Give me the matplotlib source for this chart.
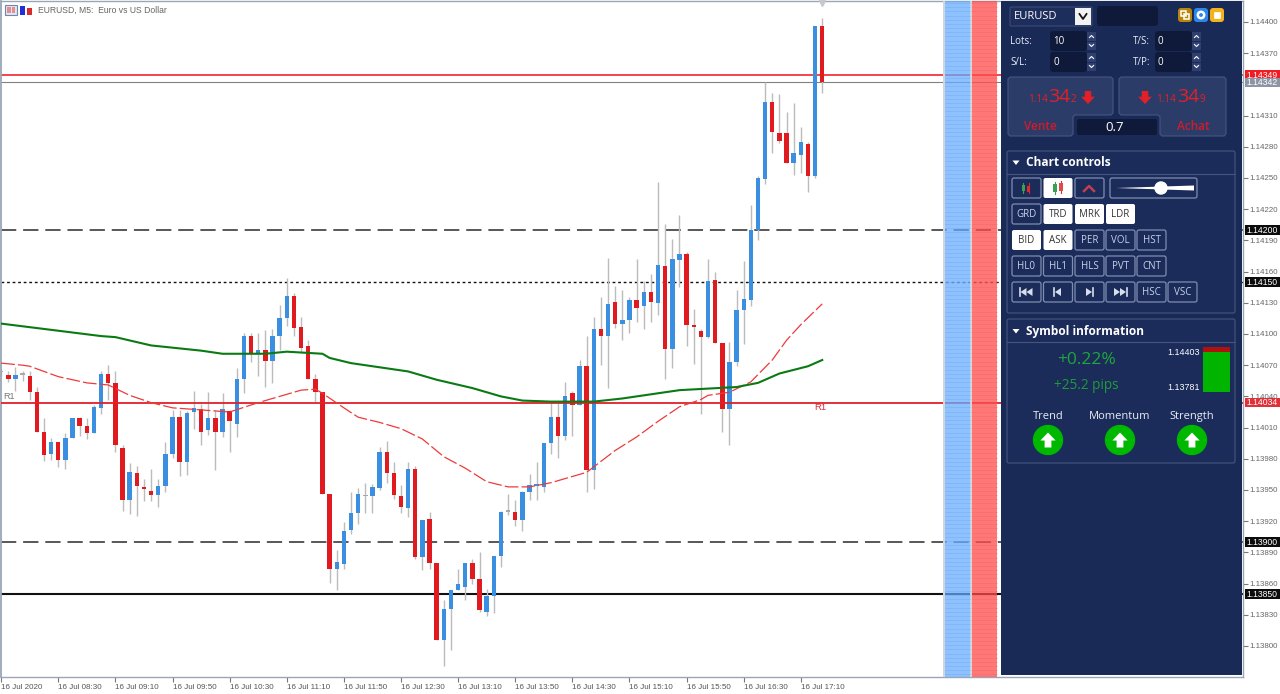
import matplotlib
matplotlib.use('Agg')
import matplotlib.pyplot as plt
from matplotlib.patches import Rectangle, FancyBboxPatch, Polygon, Circle
import numpy as np

plt.rcParams['font.family'] = ['Liberation Sans', 'DejaVu Sans']

# prices are kept in points (1e-5), candles in time order
opens = [114063, 114061, 114057, 114061, 114060, 114044, 114006, 113985, 113996, 113979, 114000, 114019, 114012, 114005, 114029, 114062, 114053, 113990, 113940, 113966, 113952, 113949, 113945, 113954, 113985, 114020, 113977, 114025, 114028, 114008, 114019, 114006, 114026, 114013, 114057, 114098, 114081, 114085, 114074, 114098, 114115, 114137, 114107, 114088, 114057, 114044, 113946, 113874, 113879, 113912, 113928, 113944, 113944, 113952, 113987, 113966, 113944, 113933, 113970, 113886, 113922, 113880, 113806, 113836, 113854, 113857, 113880, 113864, 113833, 113848, 113887, 113929, 113929, 113921, 113948, 113954, 113953, 113995, 114020, 114002, 114043, 114032, 114069, 113969, 114105, 114098, 114131, 114110, 114113, 114133, 114127, 114140, 114130, 114165, 114086, 114171, 114177, 114108, 114103, 114097, 114152, 114091, 114028, 114073, 114123, 114133, 114200, 114249, 114323, 114293, 114293, 114264, 114272, 114283, 114252, 114396]
highs = [114066, 114064, 114068, 114064, 114064, 114049, 114019, 114000, 113996, 114005, 114019, 114020, 114019, 114032, 114064, 114070, 114064, 113993, 113976, 113973, 113961, 113970, 113961, 113996, 114027, 114027, 114026, 114045, 114033, 114044, 114027, 114043, 114027, 114067, 114101, 114101, 114101, 114104, 114105, 114128, 114154, 114139, 114116, 114094, 114062, 114044, 113946, 113892, 113919, 113948, 113952, 113957, 113956, 113991, 113997, 113977, 113955, 113977, 113973, 113921, 113929, 113880, 113844, 113854, 113874, 113880, 113884, 113890, 113855, 113887, 113930, 113946, 113940, 113949, 113965, 113977, 113995, 114035, 114036, 114054, 114045, 114075, 114098, 114116, 114136, 114173, 114146, 114142, 114136, 114172, 114151, 114158, 114246, 114206, 114191, 114214, 114179, 114124, 114105, 114172, 114160, 114091, 114092, 114142, 114170, 114224, 114252, 114342, 114332, 114331, 114313, 114322, 114299, 114285, 114396, 114404]
lows = [114060, 114054, 114045, 114055, 114037, 114006, 113978, 113979, 113972, 113970, 114000, 114002, 113999, 114005, 114023, 114037, 113987, 113930, 113927, 113925, 113939, 113939, 113934, 113948, 113981, 113963, 113964, 114009, 113993, 114003, 113969, 114001, 113987, 114001, 114043, 114073, 114060, 114049, 114053, 114085, 114108, 114098, 114083, 114057, 114035, 113946, 113861, 113854, 113874, 113908, 113917, 113928, 113928, 113950, 113957, 113941, 113928, 113924, 113884, 113873, 113874, 113806, 113781, 113796, 113854, 113844, 113860, 113833, 113829, 113832, 113876, 113926, 113915, 113911, 113940, 113940, 113948, 113985, 113981, 113998, 114002, 114032, 113948, 113951, 114070, 114048, 114106, 114094, 114101, 114112, 114105, 114112, 114118, 114057, 114067, 114145, 114088, 114071, 114023, 114096, 114091, 114006, 113993, 114069, 114090, 114127, 114190, 114244, 114274, 114284, 114264, 114253, 114255, 114237, 114250, 114332]
closes = [114063, 114057, 114061, 114061, 114044, 114006, 113984, 113996, 113979, 114000, 114019, 114012, 114005, 114030, 114062, 114053, 113993, 113940, 113967, 113954, 113951, 113945, 113954, 113985, 114020, 113977, 114024, 114029, 114006, 114019, 114006, 114028, 114016, 114057, 114098, 114081, 114085, 114074, 114098, 114115, 114137, 114106, 114087, 114057, 114044, 113946, 113874, 113881, 113911, 113928, 113946, 113944, 113953, 113987, 113966, 113945, 113934, 113970, 113886, 113921, 113880, 113806, 113836, 113854, 113860, 113880, 113864, 113835, 113848, 113887, 113929, 113929, 113921, 113948, 113955, 113955, 113995, 114020, 114002, 114040, 114032, 114069, 113969, 114105, 114098, 114129, 114110, 114113, 114133, 114125, 114140, 114131, 114166, 114086, 114172, 114177, 114109, 114107, 114097, 114151, 114091, 114028, 114073, 114123, 114134, 114200, 114250, 114323, 114294, 114286, 114264, 114274, 114285, 114252, 114396, 114342]

# the two moving averages, read at the candle numbers listed
slow_ma_idx = [0, 7, 14, 16, 21, 28, 31, 37, 40, 45, 46, 49, 54, 57, 61, 66, 70, 73, 77, 83, 87, 95, 103, 106, 109, 113, 115]
slow_ma = [114110, 114104, 114098, 114097, 114089, 114084, 114081, 114081, 114083, 114081, 114077, 114072, 114067, 114064, 114056, 114048, 114040, 114036, 114035, 114035, 114038, 114046, 114049, 114053, 114062, 114069, 114075]
fast_ma_idx = [0, 3, 4, 8, 12, 15, 18, 21, 24, 28, 32, 36, 39, 42, 44, 45, 48, 50, 53, 56, 59, 62, 65, 68, 71, 74, 77, 82, 86, 89, 92, 95, 98, 99, 101, 102, 105, 108, 110, 112, 115]
fast_ma = [114072, 114070, 114069, 114059, 114053, 114051, 114041, 114034, 114029, 114027, 114025, 114034, 114040, 114046, 114047, 114043, 114029, 114020, 114015, 114009, 113999, 113982, 113971, 113958, 113953, 113953, 113957, 113967, 113988, 114001, 114016, 114030, 114037, 114041, 114043, 114044, 114054, 114075, 114094, 114109, 114129]

price_ticks = [114400, 114370, 114310, 114280, 114250, 114220, 114190, 114160, 114130, 114100, 114070, 114040, 114010, 113980, 113950, 113920, 113890, 113860, 113830, 113800]
time_labels = ['16 Jul 2020', '16 Jul 08:30', '16 Jul 09:10', '16 Jul 09:50', '16 Jul 10:30', '16 Jul 11:10', '16 Jul 11:50', '16 Jul 12:30', '16 Jul 13:10', '16 Jul 13:50', '16 Jul 14:30', '16 Jul 15:10', '16 Jul 15:50', '16 Jul 16:30', '16 Jul 17:10']

ask_level = 114349
bid_level = 114342
dash_levels = [114200, 113900]
dot_level = 114150
pivot_level = 114034
solid_level = 113850

row2_labels = ['GRD', 'TRD', 'MRK', 'LDR']
row3_labels = ['BID', 'ASK', 'PER', 'VOL', 'HST']
row4_labels = ['HL0', 'HL1', 'HLS', 'PVT', 'CNT']
row5_labels = ['HSC', 'VSC']
signal_labels = ['Trend', 'Momentum', 'Strength']

NAVY = '#1a2a56'
PANEL_EDGE = '#46567f'
BTN_EDGE = '#7f8db0'
DARK = '#0f1a3a'
BLUE = '#3a8fe0'
RED = '#e01a1f'
PIX_PER_POINT = 1.04
PIX_PER_BAR = 7.14

fig = plt.figure(figsize=(12.8, 6.94), dpi=100)
ax = fig.add_axes([0.8 / 1280, 17.5 / 694, 1242.2 / 1280, 675.5 / 694])
ax.set_xlim((0.8 - 1.16) / PIX_PER_BAR, (1243 - 1.16) / PIX_PER_BAR)
ax.set_ylim(114400 - 654.5 / PIX_PER_POINT, 114400 + 21 / PIX_PER_POINT)

# horizontal levels
ax.axhline(ask_level, color='#f2262c', lw=1.2, zorder=1)
ax.axhline(bid_level, color='#808080', lw=0.8, zorder=1)
for lev in dash_levels:
    ax.axhline(lev, color='#2a2a2a', lw=1.1, dashes=(10, 4.5), zorder=1)
ax.axhline(dot_level, color='#111111', lw=1.0, dashes=(2, 2), zorder=1)
ax.axhline(solid_level, color='#111111', lw=1.5, zorder=1)

# candles
idx = np.arange(len(opens))
o = np.array(opens)
c = np.array(closes)
ax.vlines(idx, lows, highs, color='#bcbcbc', lw=1.0, zorder=2)
colors = []
for a, b in zip(opens, closes):
    if b == a:
        colors.append('#a8a8a8')
    elif b > a:
        colors.append(BLUE)
    else:
        colors.append(RED)
body = np.maximum(np.abs(c - o), 1.5)
ax.bar(idx, body, bottom=np.minimum(o, c), width=0.62, color=colors, lw=0, zorder=3)

ax.axhline(pivot_level, color='#e0202a', lw=1.3, zorder=4)
ax.plot(fast_ma_idx, fast_ma, color='#ee3a3a', lw=0.9, dashes=(11, 2.5), zorder=4)
ax.plot(slow_ma_idx, slow_ma, color='#0a7a12', lw=1.5, zorder=4, solid_joinstyle='round')

ax.text(0.3, 114040, 'R1', fontsize=6.6, color='#777777', ha='left', va='center')
ax.text(114.7, 114029, 'R1', fontsize=6.8, color='#d8303a', ha='center', va='center')
ax.plot([115], [114418], marker='v', ms=4, color='#c8c8c8', clip_on=False, zorder=3)

# scales
ax.yaxis.tick_right()
ax.set_yticks(price_ticks)
ax.set_yticklabels(['%.5f' % (p / 1e5) for p in price_ticks])
ax.tick_params(axis='y', length=3.5, width=0.8, color='#777777', labelcolor='#666666', labelsize=5.7, pad=0.8)
ax.set_xticks(np.arange(len(time_labels)) * 8)
ax.set_xticklabels(time_labels)
ax.tick_params(axis='x', length=3.5, width=0.8, color='#777777', labelcolor='#555555', labelsize=5.8, pad=1.8)
for lab in ax.get_xticklabels():
    lab.set_ha('left')
for sp in ax.spines.values():
    sp.set_color('#9aa6b6')
    sp.set_linewidth(1.0)
ax.spines['left'].set_linewidth(1.3)

# price tags on the right scale
trans = ax.get_yaxis_transform()
tags = [(ask_level, '#f01c22'), (bid_level, '#8c96a4'), (114200, '#0c0c0c'), (114150, '#0c0c0c'),
        (pivot_level, '#e03038'), (113900, '#0c0c0c'), (solid_level, '#0c0c0c')]
for lev, col in tags:
    ax.add_patch(Rectangle((1.0016, lev - 4.4), 0.0282, 8.8, transform=trans, color=col, clip_on=False, zorder=6, lw=0))
    ax.text(1.0155, lev - 0.3, '%.5f' % (lev / 1e5), transform=trans, color='white', fontsize=6.2,
            ha='center', va='center', clip_on=False, zorder=7)

# everything outside the chart itself goes on a pixel-sized overlay
ui = fig.add_axes([0, 0, 1, 1], zorder=10)
ui.set_xlim(0, 1280)
ui.set_ylim(694, 0)
ui.axis('off')
ui.patch.set_alpha(0)


def rect(x0, y0, x1, y1, fc, ec='none', lw=0.0, alpha=None, z=2):
    p = Rectangle((x0, y0), x1 - x0, y1 - y0, facecolor=fc, edgecolor=ec, lw=lw, alpha=alpha, zorder=z)
    ui.add_patch(p)
    return p


def rbox(x0, y0, x1, y1, fc, ec='none', lw=0.8, r=2, z=3):
    p = FancyBboxPatch((x0 + r, y0 + r), x1 - x0 - 2 * r, y1 - y0 - 2 * r, boxstyle='round,pad=%g,rounding_size=%g' % (r, r),
                       facecolor=fc, edgecolor=ec, lw=lw, zorder=z)
    ui.add_patch(p)
    return p


def label(x, y, s, size=7, color='white', ha='center', weight='normal', va='center', z=5, family='Open Sans'):
    ui.text(x, y, s, fontsize=size, color=color, ha=ha, va=va, fontweight=weight, zorder=z, family=family)


def down_arrow(cx, cy, col):
    xs = np.array([-3.2, 3.2, 3.2, 6.8, 0, -6.8, -3.2])
    ys = np.array([-6.5, -6.5, -0.8, -0.8, 6.5, -0.8, -0.8])
    ui.add_patch(Polygon(np.c_[cx + xs, cy + ys], closed=True, color=col, lw=0, zorder=5))


def up_arrow(cx, cy):
    xs = np.array([-3.4, 3.4, 3.4, 7.6, 0, -7.6, -3.4])
    ys = np.array([7.5, 7.5, 0.5, 0.5, -7.5, 0.5, 0.5])
    ui.add_patch(Polygon(np.c_[cx + xs, cy + ys], closed=True, color='white', lw=0, zorder=6))


# chart title and icons
rect(5, 5, 17, 15, '#dfe6f5', '#6f86b0', 0.8)
rect(7, 7, 10.5, 13, '#e88c8c')
rect(11.5, 7, 15, 13, '#e88c8c')
rect(20, 6, 25, 15, '#2030d8')
rect(27, 8, 32, 15, '#d82c2c')
label(38, 10, 'EURUSD, M5:  Euro vs US Dollar', 6.2, '#666666', 'left', family='Liberation Sans')

# depth strips
rect(943, 1, 945, 677, '#cfd6dc', z=1)
rect(970, 1, 972, 677, '#cfd6dc', z=1)
rect(945, 1, 970, 677, '#62aaff', alpha=0.72, z=2)
rect(972, 1, 997, 677, '#ff4a4a', alpha=0.75, z=2)
for yy in np.arange(3, 677, 4.17):
    ui.plot([945, 970], [yy, yy], color='#6fa8ec', lw=0.5, alpha=0.55, zorder=3)
    ui.plot([972, 997], [yy, yy], color='#ee6262', lw=0.5, alpha=0.45, zorder=3)

# side panel
rect(1001, 1, 1242, 675, NAVY, z=2)

rbox(1010, 7, 1092, 26, '#1d2d5c', PANEL_EDGE, 0.6, 1)
label(1014, 16, 'EURUSD', 8, 'white', 'left')
rect(1075, 8, 1091, 25, '#f2f2f2', z=4)
ui.plot([1079.5, 1083, 1086.5], [14, 19, 14], color='#111111', lw=1.3, zorder=5)
rbox(1097, 6, 1158, 26, DARK, r=3)
for x0, col in [(1178, '#b8860b'), (1194, '#2f86e8'), (1210, '#f2b41e')]:
    rbox(x0, 8, x0 + 14, 22, col, r=3)
ui.add_patch(Rectangle((1181, 11), 5, 5, fc='none', ec='white', lw=1.1, zorder=5))
ui.add_patch(Rectangle((1184, 14), 5, 5, fc='none', ec='white', lw=1.1, zorder=5))
ui.add_patch(Circle((1201, 15), 3.2, fc='none', ec='white', lw=1.8, zorder=5))
ui.add_patch(Rectangle((1214, 12), 6, 6, fc='white', ec='white', lw=0.5, zorder=5))

for txt, lx, fx, fy, val in [('Lots:', 1010, 1050, 31, '10'), ('T/S:', 1133, 1155, 31, '0'),
                              ('S/L:', 1010, 1050, 52, '0'), ('T/P:', 1133, 1155, 52, '0')]:
    label(lx, fy + 10, txt, 7, '#e8ecf6', 'left')
    rbox(fx, fy, fx + 37, fy + 20, DARK, r=3)
    label(fx + 3, fy + 10, val, 7, 'white', 'left')
    rect(fx + 37, fy + 1, fx + 46, fy + 9.5, '#2f4070')
    rect(fx + 37, fy + 10.5, fx + 46, fy + 19, '#2f4070')
    ui.plot([fx + 39.5, fx + 41.5, fx + 43.5], [fy + 6.5, fy + 4.5, fy + 6.5], color='white', lw=0.8, zorder=5)
    ui.plot([fx + 39.5, fx + 41.5, fx + 43.5], [fy + 13.5, fy + 15.5, fy + 13.5], color='white', lw=0.8, zorder=5)

# sell and buy buttons
sell_pts = [(1008, 79), (1010, 77), (1111, 77), (1113, 79), (1113, 113), (1111, 115), (1075, 115), (1073, 117), (1073, 134), (1071, 136), (1010, 136), (1008, 134)]
buy_pts = [(1121, 77), (1224, 77), (1226, 79), (1226, 134), (1224, 136), (1162, 136), (1160, 134), (1160, 117), (1158, 115), (1121, 115), (1119, 113), (1119, 79)]
for pts in (sell_pts, buy_pts):
    ui.add_patch(Polygon(pts, closed=True, fc='#2c3c69', ec=PANEL_EDGE, lw=0.8, zorder=3))
rbox(1077, 119, 1157, 135, DARK, r=2)
label(1115, 127, '0.7', 9.5, 'white')
PRICE_RED = '#e32028'
base = 102
ui.text(1028, base, '1.14', fontsize=7.2, color=PRICE_RED, va='baseline', zorder=5, family='Open Sans')
ui.text(1048.5, base, '34', fontsize=14, color=PRICE_RED, va='baseline', zorder=5, family='Open Sans')
ui.text(1070.5, base, '2', fontsize=7.2, color=PRICE_RED, va='baseline', zorder=5, family='Open Sans')
down_arrow(1088, 97.5, PRICE_RED)
down_arrow(1145, 97.5, PRICE_RED)
ui.text(1156.5, base, '1.14', fontsize=7.2, color=PRICE_RED, va='baseline', zorder=5, family='Open Sans')
ui.text(1177, base, '34', fontsize=14, color=PRICE_RED, va='baseline', zorder=5, family='Open Sans')
ui.text(1199, base, '9', fontsize=7.2, color=PRICE_RED, va='baseline', zorder=5, family='Open Sans')
label(1040, 126, 'Vente', 8.5, '#d01c2a', weight='semibold')
label(1193, 126, 'Achat', 8.5, '#d01c2a', weight='semibold')

# chart controls box
rbox(1007, 151, 1235, 313, '#1b2c5a', PANEL_EDGE, 0.8, 2)
ui.plot([1007, 1235], [173.5, 173.5], color=PANEL_EDGE, lw=0.8, zorder=4)
ui.add_patch(Polygon([(1012.5, 160.5), (1019.5, 160.5), (1016, 165)], closed=True, color='white', lw=0, zorder=5))
label(1026, 162.5, 'Chart controls', 8.6, 'white', 'left', 'bold')

col_x = [1012, 1043.5, 1075, 1106, 1137, 1168]
white_btns = {'TRD', 'MRK', 'LDR', 'BID', 'ASK'}


def button_row(y0, labels, start=0):
    for n, s in enumerate(labels):
        x0 = col_x[start + n]
        on = s in white_btns
        rbox(x0, y0, x0 + 29, y0 + 20, 'white' if on else '#1b2c5a', 'none' if on else BTN_EDGE, 0.9, 2, z=4)
        label(x0 + 14.5, y0 + 10, s, 7, '#333333' if on else '#c8d2e8', z=5)


rbox(col_x[0], 178, col_x[0] + 29, 198, '#1b2c5a', BTN_EDGE, 0.9, 2, z=4)
rbox(col_x[1], 178, col_x[1] + 29, 198, 'white', 'none', 0.9, 2, z=4)
rbox(col_x[2], 178, col_x[2] + 29, 198, '#1b2c5a', BTN_EDGE, 0.9, 2, z=4)
ui.plot([1023, 1023], [183, 193], color='#3aa055', lw=0.8, zorder=5)
rect(1021.5, 185, 1024.5, 191, '#3aa055', z=5)
ui.plot([1028.5, 1028.5], [183, 193], color='#e02a2a', lw=0.8, zorder=5)
rect(1027, 186, 1030, 192, '#e02a2a', z=5)
ui.plot([1055, 1055], [182, 194], color='#3aa055', lw=0.8, zorder=5)
rect(1053, 184, 1057, 192, '#3aa055', z=5)
ui.plot([1060.5, 1060.5], [181, 193], color='#e02a2a', lw=0.8, zorder=5)
rect(1058.5, 183, 1062.5, 191, '#e04a4a', z=5)
ui.plot([1084, 1089, 1094], [191, 186, 191], color='#c04050', lw=1.8, zorder=5)
rbox(1110, 178, 1197, 198, '#1b2c5a', BTN_EDGE, 0.9, 2, z=4)
ui.add_patch(Polygon([(1116, 188), (1194, 185.5), (1194, 190.5)], closed=True, color='white', lw=0, zorder=5))
ui.add_patch(Circle((1161, 188), 6, color='white', zorder=6))

button_row(204, row2_labels)
button_row(230, row3_labels)
button_row(256, row4_labels)
for k in range(4):
    rbox(col_x[k], 282, col_x[k] + 29, 302, '#1b2c5a', BTN_EDGE, 0.9, 2, z=4)
button_row(282, row5_labels, 4)
# transport glyphs
for cx, sign, dbl in [(1026.5, -1, True), (1058, -1, False), (1089, 1, False), (1120, 1, True)]:
    offs = [-3, 3] if dbl else [0]
    for d in offs:
        ui.add_patch(Polygon([(cx + d - 3 * sign, 288), (cx + d - 3 * sign, 296), (cx + d + 3 * sign, 292)], closed=True,
                             color='#d8deec', lw=0, zorder=5))
    bx = cx + (offs[-1] + 4 if sign > 0 else offs[0] - 4)
    ui.plot([bx, bx], [288, 296], color='#d8deec', lw=1.2, zorder=5)

# symbol information box
rbox(1007, 319, 1235, 463, '#1b2c5a', PANEL_EDGE, 0.8, 2)
ui.plot([1007, 1235], [342, 342], color=PANEL_EDGE, lw=0.8, zorder=4)
ui.add_patch(Polygon([(1012.5, 329), (1019.5, 329), (1016, 333.5)], closed=True, color='white', lw=0, zorder=5))
label(1026, 331, 'Symbol information', 8.6, 'white', 'left', 'bold')
label(1086, 360, '+0.22%', 12.5, '#1fa63c')
label(1086, 385, '+25.2 pips', 9.8, '#1f9a3a')
label(1200, 352, '1.14403', 6.4, 'white', 'right', family='Liberation Sans')
label(1200, 387, '1.13781', 6.4, 'white', 'right', family='Liberation Sans')
rect(1203, 347, 1230, 352, '#b20f0f', z=5)
rect(1203, 352, 1230, 392, '#00b400', z=5)
for cx, s in zip([1048, 1120, 1192], signal_labels):
    label(cx, 416.5, s, 8, '#e8ecf6')
    ui.add_patch(Circle((cx, 440), 14.5, color='#00b800', zorder=5))
    up_arrow(cx, 440)

fig.savefig('out.png', dpi=100)
